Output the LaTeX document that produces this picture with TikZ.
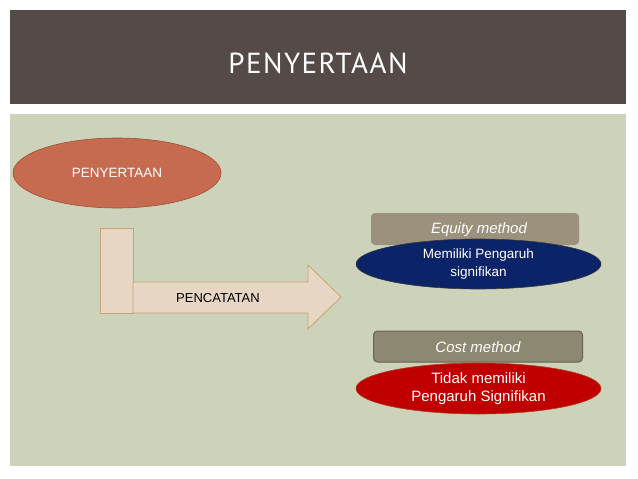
\documentclass[tikz,border=0pt]{standalone}
\usepackage{fontspec}
\setmainfont{Liberation Sans}
\newfontfamily\titlefont[LetterSpace=5]{PT Sans}
\usetikzlibrary{shapes.geometric}
\definecolor{titlebg}{HTML}{544A48}
\definecolor{panelbg}{HTML}{CDD3BB}
\definecolor{ovalred}{HTML}{C66A50}
\definecolor{ovalredline}{HTML}{9C5038}
\definecolor{arrowfill}{HTML}{E6D6C3}
\definecolor{arrowline}{HTML}{C8A46E}
\definecolor{eqbox}{HTML}{9B917C}
\definecolor{costbox}{HTML}{8D8871}
\definecolor{costline}{HTML}{66634F}
\definecolor{navy}{HTML}{0B2468}
\definecolor{navyline}{HTML}{3A3A40}
\definecolor{darkred}{HTML}{C00000}
\definecolor{darkredline}{HTML}{B04020}
\tikzset{
  oval/.style={ellipse, inner sep=0pt, align=center, text=white},
  methodbox/.style={rounded corners=4pt, inner sep=0pt},
  methodtext/.style={text=white, font=\fontsize{15}{18}\selectfont\itshape},
}
\begin{document}
\begin{tikzpicture}[x=1pt,y=-1pt]
\useasboundingbox (0,0) rectangle (638,479);
\fill[white] (0,0) rectangle (638,479);
% title bar and panel
\node[fill=titlebg, minimum width=616, minimum height=94, inner sep=0, anchor=north west] (title) at (10,10) {};
\node[text=white, font=\titlefont\fontsize{29}{32}\selectfont] (titletext) at (318,63) {PENYERTAAN};
\node[fill=panelbg, minimum width=616, minimum height=352, inner sep=0, anchor=north west] (panel) at (10,114) {};
% left ellipse
\node[oval, fill=ovalred, draw=ovalredline, line width=0.6pt, minimum width=208, minimum height=70, font=\fontsize{13.5}{16}\selectfont] (peny) at (117,173) {PENYERTAAN};
% bent arrow
\draw[fill=arrowfill, draw=arrowline, line width=0.8pt] (100,228) rectangle (133,313);
\draw[fill=arrowfill, draw=arrowline, line width=0.8pt] (133,282) -- (308,282) -- (308,265) -- (341,297) -- (308,329) -- (308,313) -- (133,313) -- cycle;
\node[font=\fontsize{13}{15}\selectfont] (pencat) at (218,298) {PENCATATAN};
% equity method
\node[methodbox, fill=eqbox, minimum width=208, minimum height=32] (equity) at (475,229) {};
\node[methodtext] (equitytext) at (479,230) {Equity method};
\node[oval, fill=navy, draw=navyline, line width=0.6pt, minimum width=245, minimum height=50, font=\fontsize{13.5}{18}\selectfont] (memiliki) at (478.5,264) {Memiliki Pengaruh\\signifikan};
% cost method
\node[methodbox, fill=costbox, draw=costline, line width=1pt, minimum width=209, minimum height=31] (cost) at (478,346.5) {};
\node[methodtext] (costtext) at (478,347) {Cost method};
\node[oval, fill=darkred, draw=darkredline, line width=0.6pt, minimum width=245, minimum height=51, font=\fontsize{15}{18}\selectfont] (tidak) at (478.5,388.5) {Tidak memiliki\\Pengaruh Signifikan};
\end{tikzpicture}
\end{document}
